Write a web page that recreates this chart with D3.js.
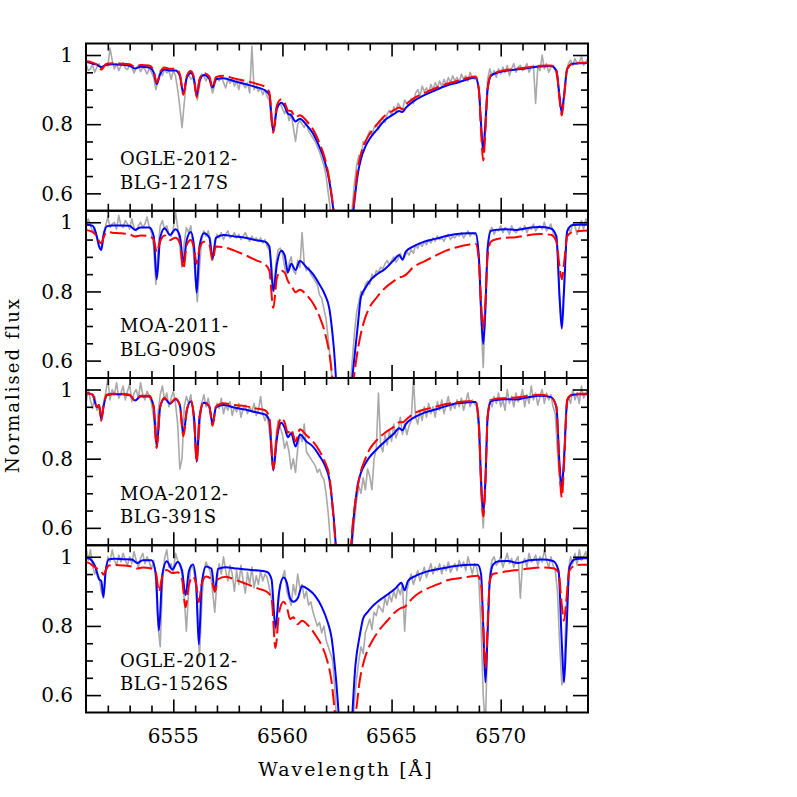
<!DOCTYPE html>
<html><head><meta charset="utf-8">
<script src="https://cdn.jsdelivr.net/npm/d3@7"></script>
<style>body{margin:0;background:#fff}svg{display:block}</style>
</head><body><svg id="c" width="797" height="797"></svg>
<script>
// ---------------- data ----------------
const wavelengthModel = [
6550.8,6551.0,6551.3,6551.5,6551.6,6551.7,6551.8,6551.95,6552.2,6552.6,
6553.0,6553.25,6553.5,6553.9,6554.1,6554.24,6554.4,6554.6,6554.85,6555.1,
6555.3,6555.46,6555.62,6555.8,6555.95,6556.07,6556.2,6556.4,6556.65,6556.8,
6556.95,6557.3,6557.8,6558.3,6558.8,6559.2,6559.4,6559.58,6559.75,6559.95,
6560.1,6560.25,6560.4,6560.6,6560.8,6561.1,6561.4,6561.7,6561.95,6562.15,
6562.35,6562.6,6562.8,6563.0,6563.25,6563.45,6563.6,6563.8,6564.0,6564.3,
6564.7,6565.1,6565.35,6565.5,6565.65,6566.0,6566.5,6567.0,6567.5,6568.0,
6568.5,6568.85,6569.0,6569.1,6569.2,6569.3,6569.4,6569.55,6569.8,6570.2,
6570.7,6571.2,6571.8,6572.3,6572.55,6572.7,6572.8,6572.9,6573.05,6573.3,
6573.6,6574.0,6574.2];

const obsStart = 6550.9, obsStep = 0.1;

const panelName1 = ["OGLE-2012-","MOA-2011-","MOA-2012-","OGLE-2012-"];
const panelName2 = ["BLG-1217S","BLG-090S","BLG-391S","BLG-1526S"];
const velocityShift = [0,0,0,0.1];

const xMajorTicks = [6555,6560,6565,6570];
const xTickLabels = ["6555","6560","6565","6570"];
const yMajorTicks = [0.6,0.8,1.0];
const yTickLabels = ["0.6","0.8","1"];

const blue1 = [
0.98,0.98,0.975,0.972,0.968,0.965,0.968,0.972,0.973,0.972,
0.969,0.961,0.966,0.964,0.95,0.916,0.945,0.958,0.955,0.955,
0.94,0.889,0.935,0.948,0.93,0.882,0.925,0.942,0.932,0.906,
0.93,0.933,0.924,0.916,0.907,0.898,0.885,0.778,0.845,0.862,
0.852,0.83,0.826,0.808,0.816,0.798,0.773,0.734,0.69,0.635,
0.545,0.42,0.38,0.43,0.55,0.655,0.70,0.735,0.758,0.782,
0.812,0.829,0.838,0.835,0.847,0.866,0.884,0.898,0.911,0.92,
0.93,0.935,0.90,0.80,0.724,0.80,0.90,0.94,0.948,0.954,
0.958,0.962,0.967,0.968,0.955,0.88,0.833,0.88,0.96,0.975,
0.976,0.977,0.977];
const red1 = [
0.982,0.982,0.978,0.972,0.965,0.958,0.965,0.975,0.976,0.975,
0.973,0.966,0.971,0.97,0.955,0.92,0.95,0.964,0.96,0.96,
0.945,0.885,0.94,0.954,0.935,0.878,0.93,0.948,0.938,0.905,
0.936,0.94,0.932,0.925,0.917,0.908,0.892,0.775,0.855,0.872,
0.862,0.84,0.838,0.82,0.826,0.81,0.785,0.745,0.70,0.64,
0.55,0.42,0.38,0.43,0.56,0.67,0.715,0.75,0.772,0.797,
0.825,0.84,0.848,0.843,0.856,0.874,0.89,0.904,0.916,0.925,
0.934,0.938,0.90,0.78,0.695,0.78,0.90,0.942,0.95,0.956,
0.96,0.964,0.969,0.97,0.955,0.87,0.825,0.875,0.96,0.976,
0.977,0.978,0.978];
const obs1 = [
0.97,0.975,0.955,0.96,0.972,0.95,0.965,0.975,0.958,0.962,
0.975,0.968,1.02,0.985,0.96,0.975,0.955,0.968,0.978,0.962,
0.958,0.97,0.965,0.948,0.962,0.97,0.952,0.965,0.958,0.945,
0.962,0.95,0.935,0.9,0.925,0.955,0.94,0.96,0.948,0.955,
0.93,0.955,0.94,0.9,0.85,0.79,0.86,0.93,0.945,0.93,
0.935,0.9,0.87,0.91,0.945,0.938,0.925,0.94,0.915,0.89,
0.915,0.935,0.925,0.94,0.92,0.905,0.93,0.918,0.935,0.91,
0.925,0.9,0.93,0.915,0.905,0.92,0.89,1.025,0.9,0.91,
0.895,0.905,0.885,0.9,0.88,0.87,0.8,0.79,0.845,0.855,
0.86,0.845,0.83,0.85,0.81,0.83,0.79,0.75,0.8,0.81,
0.8,0.79,0.805,0.78,0.77,0.76,0.75,0.735,0.72,0.7,
0.68,0.65,0.6,0.55,0.5,0.45,0.42,0.4,0.39,0.38,
0.4,0.44,0.5,0.56,0.63,0.68,0.71,0.7,0.75,0.74,
0.765,0.78,0.77,0.79,0.8,0.785,0.81,0.82,0.805,0.83,
0.84,0.825,0.85,0.835,0.86,0.85,0.84,0.87,0.86,0.855,
0.875,0.86,0.89,0.9,0.88,0.91,0.895,0.905,0.89,0.915,
0.9,0.92,0.905,0.925,0.91,0.93,0.915,0.935,0.92,0.94,
0.925,0.935,0.92,0.945,0.93,0.94,0.925,0.95,0.935,0.93,
0.93,0.9,0.8,0.72,0.82,0.93,0.96,0.94,0.955,0.935,
0.96,0.945,0.965,0.95,0.97,0.94,0.96,0.975,0.95,0.965,
0.97,0.955,0.96,0.975,0.95,0.965,0.97,0.86,0.965,0.955,
1.0,0.96,0.975,0.95,0.965,0.97,0.955,0.93,0.86,0.83,
0.89,0.95,0.975,0.985,0.97,0.99,0.975,0.98,0.995,0.97,
0.98,0.99,0.975];

const blue2 = [
0.993,0.993,0.99,0.958,0.93,0.92,0.96,0.988,0.991,0.991,
0.99,0.978,0.985,0.985,0.96,0.835,0.955,0.983,0.963,0.98,
0.96,0.885,0.95,0.972,0.93,0.796,0.93,0.968,0.955,0.895,
0.955,0.963,0.959,0.955,0.948,0.944,0.93,0.801,0.88,0.918,
0.905,0.855,0.88,0.862,0.888,0.87,0.85,0.82,0.79,0.75,
0.64,0.42,0.36,0.42,0.58,0.70,0.785,0.81,0.83,0.848,
0.865,0.89,0.905,0.892,0.915,0.93,0.944,0.952,0.96,0.966,
0.968,0.968,0.90,0.75,0.648,0.75,0.92,0.975,0.978,0.98,
0.978,0.983,0.986,0.982,0.96,0.78,0.693,0.80,0.975,0.992,
0.993,0.993,0.993];
const red2 = [
0.979,0.978,0.972,0.958,0.945,0.939,0.955,0.972,0.97,0.968,
0.965,0.959,0.962,0.96,0.95,0.914,0.945,0.962,0.949,0.955,
0.94,0.865,0.935,0.949,0.925,0.88,0.925,0.944,0.935,0.89,
0.93,0.928,0.918,0.905,0.89,0.878,0.86,0.752,0.84,0.86,
0.855,0.83,0.818,0.798,0.805,0.79,0.766,0.727,0.68,0.62,
0.52,0.40,0.36,0.40,0.54,0.63,0.68,0.725,0.755,0.781,
0.81,0.83,0.84,0.843,0.848,0.87,0.887,0.903,0.918,0.928,
0.935,0.938,0.89,0.77,0.693,0.77,0.90,0.944,0.951,0.955,
0.957,0.962,0.966,0.964,0.945,0.87,0.835,0.88,0.96,0.972,
0.975,0.976,0.976];
const obs2 = [
1.0,0.985,1.01,0.995,0.97,0.985,0.95,0.93,0.925,0.97,
0.99,1.015,0.985,0.995,1.0,0.98,1.02,0.99,0.985,1.005,
0.995,0.98,1.01,0.985,0.975,0.99,1.0,0.985,0.995,1.015,
0.985,0.97,0.93,0.82,0.92,0.99,1.005,0.98,0.99,0.965,
0.96,0.98,1.03,0.985,0.93,0.87,0.94,0.985,0.97,0.99,
0.93,0.85,0.77,0.87,0.95,0.975,0.96,0.975,0.95,0.89,
0.93,0.965,0.955,0.97,0.95,0.965,0.975,0.955,0.96,0.97,
0.955,0.965,0.95,0.96,0.97,0.955,0.945,0.96,0.95,0.955,
0.945,0.955,0.94,0.95,0.93,0.92,0.88,0.8,0.88,0.92,
0.925,0.91,0.87,0.85,0.88,0.9,0.86,0.85,0.89,0.87,
0.97,0.88,0.86,0.87,0.85,0.84,0.83,0.82,0.79,0.78,
0.75,0.72,0.66,0.6,0.53,0.46,0.41,0.38,0.37,0.38,
0.4,0.45,0.52,0.6,0.68,0.74,0.77,0.8,0.79,0.82,
0.83,0.82,0.85,0.84,0.86,0.855,0.87,0.865,0.88,0.89,
0.875,0.89,0.9,0.885,0.895,0.91,0.89,0.9,0.915,0.905,
0.92,0.91,0.935,0.925,0.94,0.93,0.945,0.935,0.95,0.94,
0.955,0.945,0.96,0.95,0.955,0.945,0.96,0.965,0.95,0.96,
0.955,0.965,0.96,0.97,0.955,0.965,0.975,0.96,0.97,0.965,
0.96,0.9,0.72,0.58,0.76,0.94,0.975,0.985,0.965,0.98,
0.975,0.99,0.97,0.985,0.98,0.965,0.99,0.975,0.97,0.98,
0.985,0.975,0.99,0.97,0.985,0.98,0.995,0.975,0.985,0.99,
0.98,1.0,0.975,0.985,0.995,0.97,0.96,0.92,0.78,0.7,
0.82,0.96,0.985,0.97,0.995,0.99,0.965,0.985,1.005,0.98,
1.01,0.99,1.0];

const blue3 = [
0.99,0.99,0.985,0.949,0.955,0.914,0.95,0.983,0.986,0.986,
0.983,0.968,0.98,0.98,0.95,0.835,0.95,0.974,0.959,0.972,
0.955,0.87,0.94,0.965,0.92,0.791,0.92,0.962,0.95,0.90,
0.948,0.955,0.948,0.942,0.934,0.928,0.91,0.766,0.86,0.904,
0.89,0.862,0.874,0.835,0.87,0.85,0.835,0.808,0.78,0.74,
0.63,0.42,0.36,0.42,0.62,0.725,0.76,0.786,0.805,0.826,
0.85,0.872,0.888,0.882,0.9,0.918,0.933,0.942,0.952,0.96,
0.963,0.964,0.90,0.74,0.643,0.74,0.92,0.966,0.97,0.972,
0.971,0.977,0.982,0.978,0.95,0.78,0.717,0.80,0.97,0.985,
0.986,0.986,0.986];
const red3 = [
0.99,0.99,0.985,0.95,0.955,0.91,0.95,0.985,0.988,0.988,
0.985,0.968,0.982,0.982,0.95,0.83,0.95,0.976,0.96,0.974,
0.955,0.865,0.94,0.968,0.92,0.79,0.92,0.965,0.95,0.895,
0.95,0.96,0.955,0.952,0.945,0.94,0.92,0.77,0.87,0.918,
0.905,0.875,0.885,0.85,0.885,0.868,0.85,0.822,0.79,0.75,
0.62,0.42,0.36,0.44,0.63,0.72,0.765,0.80,0.828,0.852,
0.875,0.892,0.905,0.905,0.912,0.93,0.942,0.95,0.958,0.963,
0.966,0.966,0.90,0.73,0.633,0.73,0.92,0.97,0.973,0.975,
0.977,0.981,0.985,0.978,0.95,0.76,0.688,0.78,0.97,0.987,
0.988,0.988,0.988];
const obs3 = [
0.93,0.96,1.0,0.97,0.945,0.98,0.94,0.95,0.91,0.96,
0.99,1.03,0.97,1.0,0.985,1.02,0.975,0.99,1.01,0.97,
0.995,1.015,0.965,0.99,1.0,0.975,1.02,0.985,0.97,0.995,
0.98,0.96,0.92,0.85,0.93,0.985,1.01,0.97,0.99,0.95,
0.975,0.995,0.96,0.9,0.77,0.8,0.95,0.98,0.96,0.985,
0.93,0.86,0.8,0.88,0.96,0.985,0.95,0.975,0.94,0.9,
0.93,0.96,0.945,0.975,0.93,0.955,0.94,0.965,0.925,0.95,
0.935,0.96,0.92,0.945,0.955,0.93,0.95,0.935,0.96,0.925,
0.94,0.98,0.93,0.91,0.93,0.88,0.82,0.78,0.86,0.91,
0.89,0.87,0.83,0.85,0.82,0.77,0.8,0.76,0.83,0.87,
0.85,0.9,0.82,0.81,0.8,0.79,0.78,0.76,0.77,0.75,
0.74,0.7,0.64,0.56,0.48,0.41,0.36,0.34,0.34,0.35,
0.37,0.4,0.46,0.55,0.62,0.68,0.72,0.7,0.745,0.71,
0.77,0.75,0.71,0.8,0.83,0.99,0.84,0.82,0.87,0.84,
0.88,0.85,0.9,0.86,0.88,0.92,0.87,0.9,0.87,0.895,
0.91,1.03,0.92,0.9,0.94,0.91,0.95,0.92,0.96,0.93,
0.95,0.92,0.965,0.94,0.97,0.93,0.955,0.98,0.94,0.96,
0.945,0.97,0.95,0.975,0.94,0.965,0.99,0.95,0.97,0.96,
0.95,0.88,0.7,0.6,0.72,0.92,0.97,0.95,0.98,0.96,
0.99,0.95,0.97,0.94,1.0,0.96,0.98,0.95,0.99,0.965,
0.975,1.0,0.95,0.985,0.96,1.01,0.97,0.99,0.955,0.98,
1.0,0.96,0.99,0.97,0.985,0.95,0.93,0.82,0.74,0.7,
0.78,0.93,0.98,0.96,1.0,0.97,0.99,0.96,1.01,0.975,
0.99,1.0,0.98];

const blue4 = [
0.997,0.996,0.975,0.935,0.93,0.884,0.96,0.993,0.994,0.993,
0.992,0.982,0.99,0.99,0.95,0.787,0.95,0.987,0.963,0.985,
0.96,0.889,0.96,0.978,0.92,0.746,0.92,0.972,0.965,0.899,
0.965,0.97,0.966,0.963,0.96,0.956,0.935,0.795,0.90,0.94,
0.925,0.88,0.87,0.88,0.915,0.905,0.887,0.855,0.815,0.766,
0.65,0.45,0.38,0.45,0.69,0.775,0.822,0.84,0.855,0.872,
0.89,0.91,0.925,0.903,0.93,0.945,0.957,0.964,0.97,0.975,
0.977,0.977,0.95,0.80,0.637,0.78,0.93,0.977,0.987,0.988,
0.982,0.99,0.992,0.988,0.96,0.75,0.637,0.76,0.97,0.993,
0.995,0.997,0.997];
const red4 = [
0.985,0.983,0.97,0.962,0.958,0.948,0.96,0.975,0.976,0.975,
0.972,0.966,0.969,0.966,0.955,0.899,0.945,0.962,0.953,0.955,
0.935,0.854,0.92,0.943,0.92,0.869,0.92,0.943,0.935,0.899,
0.935,0.942,0.932,0.92,0.908,0.898,0.88,0.736,0.84,0.87,
0.855,0.82,0.825,0.805,0.815,0.80,0.775,0.743,0.70,0.64,
0.52,0.42,0.38,0.42,0.54,0.645,0.69,0.73,0.755,0.785,
0.815,0.842,0.852,0.855,0.866,0.888,0.907,0.92,0.933,0.938,
0.943,0.945,0.92,0.80,0.677,0.80,0.93,0.95,0.953,0.958,
0.962,0.966,0.969,0.967,0.955,0.86,0.815,0.87,0.96,0.975,
0.977,0.977,0.977];
const obs4 = [
1.0,1.03,0.99,1.02,0.975,0.95,0.96,0.94,0.9,0.88,
0.95,1.0,0.985,1.02,0.99,0.975,1.005,0.985,1.01,0.99,
0.975,1.0,0.98,1.015,0.99,0.97,0.995,1.01,0.98,1.0,
0.985,0.965,0.99,0.93,0.8,0.74,0.92,0.995,1.02,0.97,
0.98,0.955,1.01,0.99,0.975,0.95,0.88,0.785,0.9,0.975,
0.97,0.94,0.85,0.71,0.86,0.96,0.985,0.97,0.955,0.9,
0.84,0.93,0.98,0.95,1.0,0.96,0.93,0.975,0.95,0.9,
0.96,0.92,0.975,0.93,0.895,0.955,0.92,0.97,0.91,0.945,
0.92,0.96,0.93,0.95,0.94,0.91,0.88,0.84,0.78,0.86,
0.92,0.94,0.96,0.9,0.88,0.86,0.92,0.89,0.95,0.91,
0.92,0.88,0.9,0.86,0.87,0.84,0.82,0.8,0.81,0.78,
0.8,0.76,0.74,0.72,0.7,0.62,0.5,0.42,0.38,0.36,
0.36,0.38,0.43,0.5,0.58,0.65,0.7,0.74,0.72,0.78,
0.8,0.82,0.79,0.84,0.83,0.86,0.85,0.84,0.88,0.86,
0.89,0.87,0.9,0.88,0.91,0.89,0.92,0.785,0.9,0.93,
0.95,0.92,0.94,0.96,0.93,0.95,0.97,0.94,0.96,0.98,
0.95,0.97,0.96,0.98,0.95,0.975,0.96,0.985,0.955,0.97,
0.98,0.96,0.99,0.97,0.985,0.96,1.0,0.975,0.95,0.98,
0.97,0.93,0.8,0.6,0.5,0.78,0.95,0.99,1.0,0.975,
0.985,1.0,0.97,0.99,1.01,0.98,0.995,0.97,0.99,1.0,
0.88,0.98,0.995,0.97,1.01,0.985,0.99,1.005,0.975,1.0,
0.985,1.02,0.99,0.97,1.0,0.975,0.96,0.9,0.75,0.63,
0.66,0.85,0.96,1.0,0.98,1.01,0.975,1.02,0.99,1.0,
1.015,0.98,1.0];

const blueModels = [blue1, blue2, blue3, blue4];
const redModels  = [red1, red2, red3, red4];
const observed   = [obs1, obs2, obs3, obs4];

// ---------------- layout ----------------
const L = 86, R = 588, TOP = 43.5, PH = 167.25;
const svg = d3.select("#c");
const x = d3.scaleLinear().domain([6551, 6574]).range([L, R]);
const xMinor = d3.range(6552, 6574, 1).filter(v => v % 5 !== 0);
const yMinor = [0.65,0.7,0.75,0.85,0.9,0.95];
const FONT = "'DejaVu Serif', serif";

svg.append("defs").selectAll("clipPath").data([0,1,2,3]).join("clipPath")
  .attr("id", i => "clip" + i)
  .append("rect")
  .attr("x", L).attr("y", i => TOP + i * PH).attr("width", R - L).attr("height", PH);

for (let i = 0; i < 4; i++) {
  const top = TOP + i * PH, bot = top + PH;
  const y = d3.scaleLinear().domain([0.5497, 1.0333]).range([bot, top]);
  const g = svg.append("g");
  const plot = g.append("g").attr("clip-path", `url(#clip${i})`);

  const obsPts = observed[i].map((f, k) => [obsStart + k * obsStep, f]);
  plot.append("path").datum(obsPts)
    .attr("fill", "none").attr("stroke", "#a9a9a9").attr("stroke-width", 1.6)
    .attr("stroke-linejoin", "round")
    .attr("d", d3.line().x(d => x(d[0])).y(d => y(d[1])));

  const modelLine = d3.line().curve(d3.curveMonotoneX)
    .x((d, k) => x(wavelengthModel[k] + velocityShift[i])).y(d => y(d));
  plot.append("path").datum(blueModels[i])
    .attr("fill", "none").attr("stroke", "#0000ff").attr("stroke-width", 2)
    .attr("d", modelLine);
  plot.append("path").datum(redModels[i])
    .attr("fill", "none").attr("stroke", "#ff0000").attr("stroke-width", 2)
    .attr("stroke-dasharray", "16,5")
    .attr("d", modelLine);

  // axes (ticks pointing inward)
  const axes = [
    {ax: d3.axisTop(x), t: `translate(0,${bot})`, maj: xMajorTicks, min: xMinor},
    {ax: d3.axisBottom(x), t: `translate(0,${top})`, maj: xMajorTicks, min: xMinor},
  ];
  axes.forEach(a => {
    g.append("g").attr("transform", a.t)
      .call(a.ax.tickValues(a.maj).tickSize(13).tickFormat(""));
    g.append("g").attr("transform", a.t)
      .call(a.ax.tickValues(a.min).tickSize(7).tickFormat(""));
  });
  const yAxes = [
    {ax: d3.axisRight(y), t: `translate(${L},0)`},
    {ax: d3.axisLeft(y), t: `translate(${R},0)`},
  ];
  yAxes.forEach(a => {
    g.append("g").attr("transform", a.t)
      .call(a.ax.tickValues(yMajorTicks).tickSize(15).tickFormat(""));
    g.append("g").attr("transform", a.t)
      .call(a.ax.tickValues(yMinor).tickSize(7).tickFormat(""));
  });
  g.selectAll(".domain").remove();
  g.selectAll(".tick line").attr("stroke", "#000").attr("stroke-width", 1.6);

  // y tick labels
  g.selectAll(".ylab").data(yMajorTicks).join("text")
    .attr("x", 73).attr("y", d => y(d)).attr("dy", "0.36em")
    .attr("text-anchor", "end")
    .attr("font-family", FONT).attr("font-size", 20)
    .text((d, k) => yTickLabels[k]);

  // frame
  g.append("rect").attr("x", L).attr("y", top).attr("width", R - L).attr("height", PH)
    .attr("fill", "none").attr("stroke", "#000").attr("stroke-width", 2);

  // panel label
  g.append("text").attr("x", 120).attr("y", top + 121.5)
    .attr("font-family", FONT).attr("font-size", 18).attr("letter-spacing", 0.5)
    .text(panelName1[i]);
  g.append("text").attr("x", 120).attr("y", top + 145)
    .attr("font-family", FONT).attr("font-size", 18).attr("letter-spacing", 0.5)
    .text(panelName2[i]);
}

// x tick labels (bottom panel only)
svg.selectAll(".xlab").data(xMajorTicks).join("text")
  .attr("x", d => x(d)).attr("y", 743)
  .attr("text-anchor", "middle")
  .attr("font-family", FONT).attr("font-size", 20)
  .text((d, k) => xTickLabels[k]);

svg.append("text").attr("x", 346).attr("y", 776)
  .attr("text-anchor", "middle")
  .attr("font-family", FONT).attr("font-size", 19).attr("letter-spacing", 2)
  .text("Wavelength [Å]");

svg.append("text").attr("transform", "translate(19,385) rotate(-90)")
  .attr("text-anchor", "middle")
  .attr("font-family", FONT).attr("font-size", 18).attr("letter-spacing", 2)
  .text("Normalised flux");
</script>
</body></html>
